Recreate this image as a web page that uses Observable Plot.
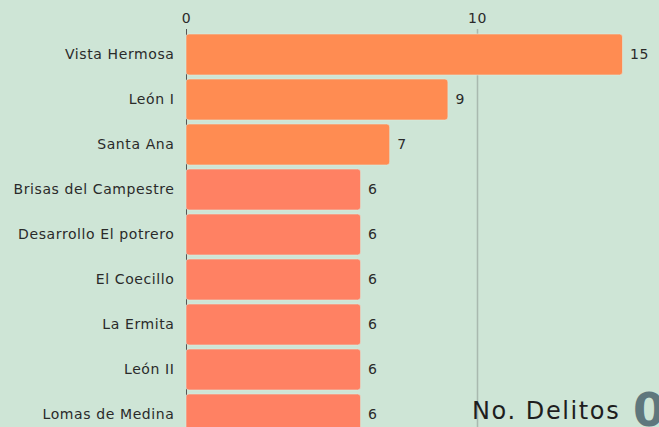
<!DOCTYPE html>
<html>
<head>
<meta charset="utf-8">
<script src="https://cdn.jsdelivr.net/npm/d3@7"></script>
<script src="https://cdn.jsdelivr.net/npm/@observablehq/plot@0.6"></script>
<style>
  html, body { margin: 0; padding: 0; background: #cee5d6; overflow: hidden; width: 659px; height: 427px; }
  #wrap { position: relative; width: 659px; height: 427px; overflow: hidden; }
  #kpi-label { position: absolute; left: 472px; top: 397px; font-family: "DejaVu Sans", sans-serif; font-size: 24px; letter-spacing: 1.6px; color: #1e1e1e; white-space: nowrap; }
  #kpi-value { position: absolute; left: 633px; top: 383px; font-family: "DejaVu Sans", sans-serif; font-weight: 700; font-size: 46px; color: #5f777d; white-space: nowrap; }
</style>
</head>
<body>
<div id="wrap">
  <div id="chart"></div>
  <div id="kpi-label">No. Delitos</div>
  <div id="kpi-value">0</div>
</div>
<script>
const colonias = ["Vista Hermosa", "León I", "Santa Ana", "Brisas del Campestre", "Desarrollo El potrero", "El Coecillo", "La Ermita", "León II", "Lomas de Medina"];
const delitos = [15, 9, 7, 6, 6, 6, 6, 6, 6];
const xTicks = [0, 10];
const kpiValue = "0";

const data = colonias.map((c, i) => ({colonia: c, delitos: delitos[i]}));
const fill = d => d.delitos >= 7 ? "#ff8c52" : "#ff8163";

document.getElementById("kpi-value").textContent = kpiValue;

const chart = Plot.plot({
  width: 659,
  height: 441,
  marginTop: 29,
  marginBottom: 1,
  marginLeft: 186,
  marginRight: 36.5,
  style: {background: "transparent", fontFamily: "DejaVu Sans, sans-serif", fontSize: "14px", letterSpacing: "0.6px", color: "#2a2a2a"},
  x: {domain: [0, 15], axis: "top", ticks: xTicks, tickSize: 0, tickPadding: 7, label: null},
  y: {domain: colonias, padding: 0.1, tickSize: 0, tickPadding: 12, label: null},
  marks: [
    Plot.ruleX([10], {stroke: "#a9b9af", strokeWidth: 1.5}),
    Plot.ruleX([0], {stroke: "#555", strokeWidth: 1}),
    Plot.barX(data, {x: "delitos", y: "colonia", fill: fill, rx: 3, stroke: "#dcebdf", strokeWidth: 1, strokeOpacity: 0.6}),
    Plot.text(data, {x: "delitos", y: "colonia", text: d => String(d.delitos), textAnchor: "start", dx: 7, fontSize: 14, fill: "#2a2a2a"})
  ]
});
document.getElementById("chart").appendChild(chart);
</script>
</body>
</html>
